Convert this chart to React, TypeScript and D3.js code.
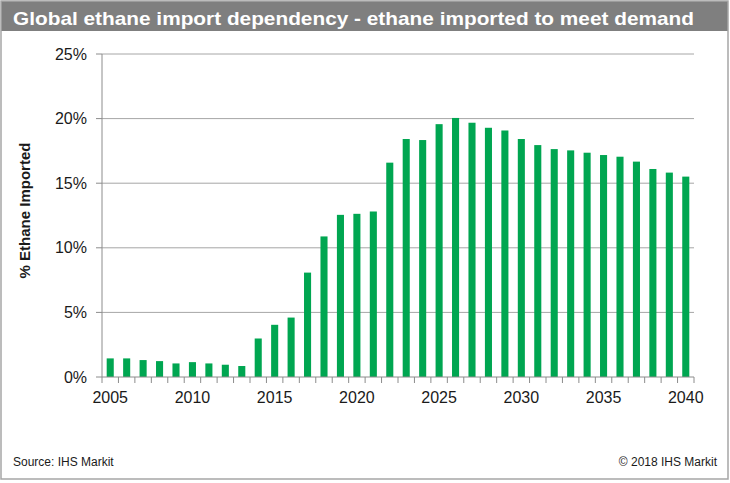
import React from "react";
import * as d3 from "d3";

const years: number[] = [
  2005, 2006, 2007, 2008, 2009, 2010, 2011, 2012, 2013, 2014, 2015, 2016,
  2017, 2018, 2019, 2020, 2021, 2022, 2023, 2024, 2025, 2026, 2027, 2028,
  2029, 2030, 2031, 2032, 2033, 2034, 2035, 2036, 2037, 2038, 2039, 2040,
];
const importPct: number[] = [
  1.44, 1.44, 1.31, 1.23, 1.05, 1.15, 1.05, 0.95, 0.85, 2.98, 4.04, 4.6,
  8.08, 10.88, 12.55, 12.63, 12.81, 16.59, 18.42, 18.34, 19.57, 20.05, 19.68, 19.29,
  19.08, 18.42, 17.95, 17.64, 17.54, 17.36, 17.18, 17.05, 16.67, 16.1, 15.82, 15.51,
];
const yTicks: number[] = [0, 5, 10, 15, 20, 25];
const xLabelYears: number[] = [2005, 2010, 2015, 2020, 2025, 2030, 2035, 2040];

const title = "Global ethane import dependency - ethane imported to meet demand";
const yTitle = "% Ethane Imported";
const source = "Source: IHS Markit";
const copyright = "\u00A9 2018 IHS Markit";

export default function App() {
  const W = 730;
  const H = 483;
  const left = 102;
  const right = 694;
  const top = 54;
  const bottom = 377;
  const pad = 0.57;

  const x = d3
    .scaleBand<number>()
    .domain(years)
    .range([left, right])
    .paddingInner(pad)
    .paddingOuter(pad / 2);
  const step = x.step();
  const y = d3.scaleLinear().domain([0, 25]).range([bottom, top]);

  const font = "'Liberation Sans', Arial, sans-serif";
  const gridColor = "#A6A6A6";
  const axisColor = "#8C8C8C";

  const boundaries = d3.range(years.length + 1).map((i) => left + i * step);

  return (
    <svg
      width={W}
      height={H}
      style={{ position: "absolute", left: 0, top: 0, background: "#fff" }}
      fontFamily={font}
    >
      <rect x={0} y={0} width={W} height={H} fill="#fff" />
      {/* title bar */}
      <rect x={1} y={1} width={727} height={30} fill="#7F7F7F" />
      <text
        x={13}
        y={25}
        fill="#fff"
        fontWeight="bold"
        fontSize={19}
        textLength={681}
        lengthAdjust="spacingAndGlyphs"
      >
        {title}
      </text>

      {/* gridlines */}
      {yTicks
        .filter((t) => t > 0)
        .map((t) => (
          <line
            key={"g" + t}
            x1={left}
            x2={right}
            y1={y(t)}
            y2={y(t)}
            stroke={gridColor}
            strokeWidth={1}
          />
        ))}

      {/* bars */}
      {years.map((yr, i) => (
        <rect
          key={yr}
          x={x(yr)}
          y={y(importPct[i])}
          width={x.bandwidth()}
          height={bottom - y(importPct[i])}
          fill="#00A651"
        />
      ))}

      {/* y axis */}
      <line x1={left} x2={left} y1={top} y2={bottom} stroke={axisColor} strokeWidth={1} />
      {yTicks.map((t) => (
        <g key={"yt" + t}>
          <line x1={left - 6} x2={left} y1={y(t)} y2={y(t)} stroke={axisColor} strokeWidth={1} />
          <text
            x={87}
            y={y(t) + 5.5}
            textAnchor="end"
            fontSize={16}
            fill="#1a1a1a"
          >
            {t + "%"}
          </text>
        </g>
      ))}

      {/* x axis */}
      <line x1={left} x2={right} y1={bottom} y2={bottom} stroke={axisColor} strokeWidth={1} />
      {boundaries.map((bx, i) => (
        <line
          key={"xt" + i}
          x1={bx}
          x2={bx}
          y1={bottom}
          y2={bottom + 6}
          stroke={axisColor}
          strokeWidth={1}
        />
      ))}
      {xLabelYears.map((yr) => (
        <text
          key={"xl" + yr}
          x={(x(yr) as number) + x.bandwidth() / 2}
          y={402.5}
          textAnchor="middle"
          fontSize={16}
          fill="#1a1a1a"
        >
          {yr}
        </text>
      ))}

      {/* y title */}
      <text
        transform={`translate(30, ${(top + bottom) / 2 - 5}) rotate(-90)`}
        textAnchor="middle"
        fontWeight="bold"
        fontSize={15}
        fill="#1a1a1a"
      >
        {yTitle}
      </text>

      {/* footer */}
      <text x={13} y={466} fontSize={12} fill="#1a1a1a">
        {source}
      </text>
      <text x={717} y={466} fontSize={12} textAnchor="end" fill="#1a1a1a">
        {copyright}
      </text>

      {/* border */}
      <rect
        x={1}
        y={1}
        width={727}
        height={478}
        fill="none"
        stroke={gridColor}
        strokeWidth={1.5}
      />
    </svg>
  );
}
